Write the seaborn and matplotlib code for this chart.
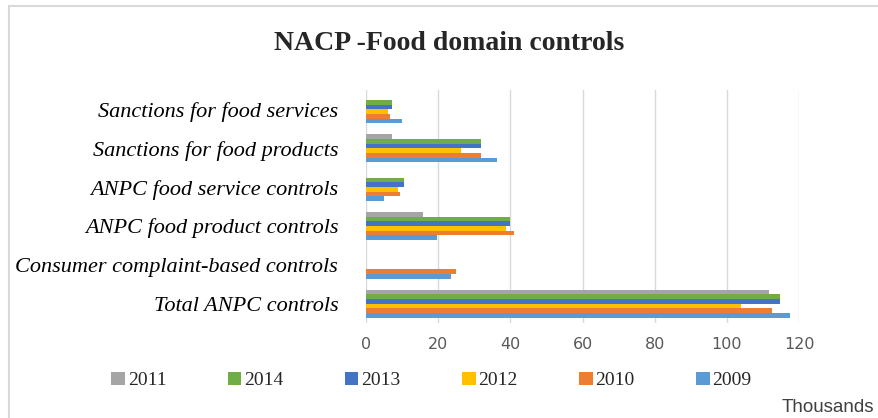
import matplotlib
matplotlib.use("Agg")
import matplotlib.pyplot as plt
import matplotlib.patches as mpatches
import seaborn as sns
import pandas as pd

# categories, top to bottom as in the chart
categories = [
    "Sanctions for food services",
    "Sanctions for food products",
    "ANPC food service controls",
    "ANPC food product controls",
    "Consumer complaint-based controls",
    "Total ANPC controls",
]
years = ["2011", "2014", "2013", "2012", "2010", "2009"]

# values in thousands, one list per year (None = no bar)
v2011 = [None, 7.1, None, 15.7, None, 111.6]
v2014 = [7.1, 31.9, 10.6, 40.0, None, 114.6]
v2013 = [7.1, 31.9, 10.6, 40.0, None, 114.6]
v2012 = [6.1, 26.2, 8.8, 38.7, None, 103.8]
v2010 = [6.7, 31.9, 9.3, 41.1, 24.9, 112.6]
v2009 = [9.9, 36.2, 5.0, 19.8, 23.5, 117.6]

palette = {"2009": "#5B9BD5", "2010": "#ED7D31", "2011": "#A5A5A5",
           "2012": "#FFC000", "2013": "#4472C4", "2014": "#70AD47"}

rows = []
for year, vals in zip(years, [v2011, v2014, v2013, v2012, v2010, v2009]):
    for cat, v in zip(categories, vals):
        rows.append({"category": cat, "year": year, "value": v if v is not None else 0.0})
df = pd.DataFrame(rows)

sns.set_style("white")
fig = plt.figure(figsize=(8.79, 4.18), dpi=100)
ax = fig.add_axes([0.4164, 0.2273, 0.4926, 0.5574])

sns.barplot(data=df, y="category", x="value", hue="year", order=categories,
            hue_order=years, palette=palette, orient="h", width=0.72,
            saturation=1, linewidth=0, ax=ax, legend=True)

ax.set_xlim(0, 120)
ax.set_xticks(range(0, 121, 20))
ax.xaxis.grid(True, color="#D9D9D9", linewidth=1)
ax.set_axisbelow(True)
for s in ax.spines.values():
    s.set_visible(False)
ax.set_xlabel("")
ax.set_ylabel("")
ax.tick_params(axis="x", length=0, pad=10, labelsize=11.5, labelcolor="#595959")
ax.tick_params(axis="y", length=0, pad=20)
for lbl in ax.get_yticklabels():
    lbl.set_fontfamily("Liberation Serif")
    lbl.set_fontstyle("italic")
    lbl.set_fontsize(16)
    lbl.set_color("black")

handles, labels = ax.get_legend_handles_labels()
ax.get_legend().remove()
fig.legend(handles, labels, loc="center", bbox_to_anchor=(0.491, 0.09), ncol=6,
           frameon=False, handlelength=0.7, handleheight=0.7, handletextpad=0.15,
           columnspacing=3.15, prop={"family": "Liberation Serif", "size": 14})

fig.text(0.511, 0.895, "NACP -Food domain controls", ha="center", va="center",
         fontsize=20, fontweight="bold", family="Liberation Serif")
fig.text(0.995, 0.026, "Thousands", ha="right", va="center", fontsize=13.5,
         color="#404040", family="Liberation Sans")

border = mpatches.Rectangle((9 / 879, -0.1), 1.1, 1.1 - 6 / 418, transform=fig.transFigure,
                            fill=False, edgecolor="#D9D9D9", linewidth=1.5)
fig.patches.append(border)

fig.savefig("out.png", dpi=100)
